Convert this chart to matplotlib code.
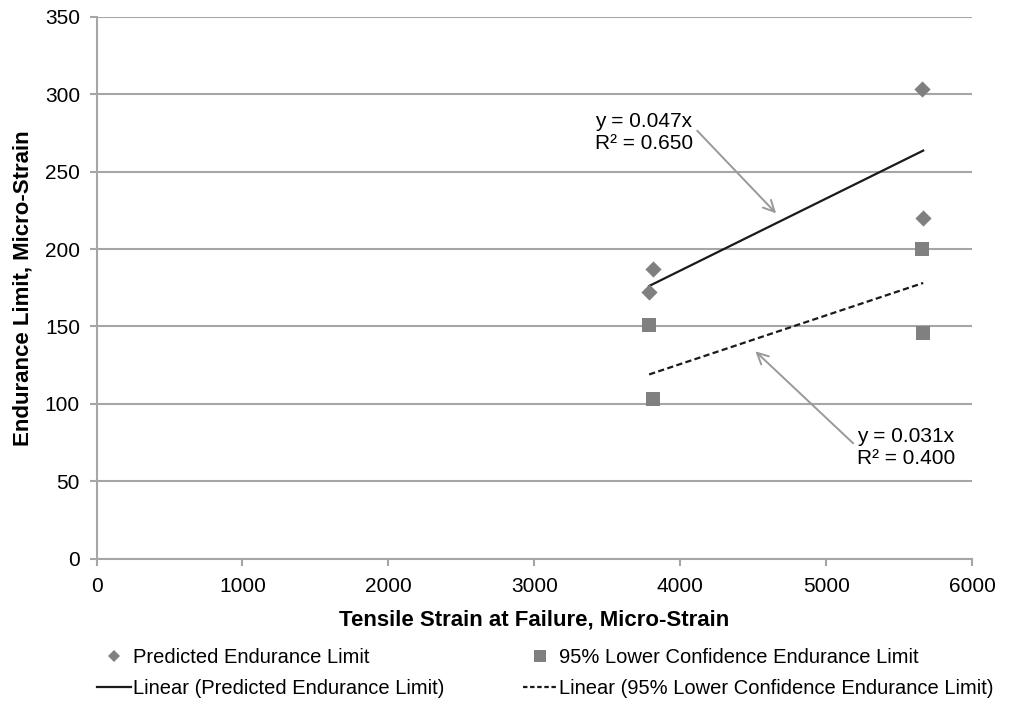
import numpy as np
import matplotlib.pyplot as plt
from matplotlib.lines import Line2D

plt.rcParams["font.family"] = ["Liberation Sans", "DejaVu Sans"]

# data
strain_fail = [3787, 3816, 5656, 5665]
pred_limit = [172, 187, 303, 220]
lower_limit = [151, 103, 200, 146]

x_ticks = [0, 1000, 2000, 3000, 4000, 5000, 6000]
y_ticks = [0, 50, 100, 150, 200, 250, 300, 350]

GRID = "#a6a6a6"
MARK = "#808080"
LINE = "#1a1a1a"
ARROW = "#999999"

x = np.array(strain_fail, dtype=float)


def slope0(y):
    # Excel linear trendline with intercept forced to zero
    y = np.asarray(y, dtype=float)
    return (x * y).sum() / (x * x).sum()


fig = plt.figure(figsize=(10.11, 7.09), dpi=100)
ax = fig.add_axes([0.0955, 0.2116, 0.866, 0.7651])

ax.set_xlim(0, 6000)
ax.set_ylim(0, 350)
ax.set_xticks(x_ticks)
ax.set_yticks(y_ticks)
ax.grid(axis="y", color=GRID, lw=1.5, zorder=0)
for s in ["top", "right"]:
    ax.spines[s].set_visible(False)
for s in ["left", "bottom"]:
    ax.spines[s].set_color(GRID)
    ax.spines[s].set_linewidth(1.5)
ax.tick_params(colors=GRID, width=1.5, length=5, direction="out",
               labelcolor="black", labelsize=15)
ax.tick_params(axis="x", pad=8.3)
ax.tick_params(axis="y", pad=7)

ax.scatter(x, pred_limit, marker="D", s=68, color=MARK, zorder=4, lw=0)
ax.scatter(x, lower_limit, marker="s", s=105, color=MARK, zorder=4, lw=0)

xs = np.array([x.min(), x.max()])
ax.plot(xs, slope0(pred_limit) * xs, color=LINE, lw=1.6, zorder=3)
ax.plot(xs, slope0(lower_limit) * xs, color=LINE, lw=1.6, ls=(0, (2.8, 1.5)),
        zorder=3)

ax.annotate("y = 0.047x\nR² = 0.650", xy=(4657, 223), xytext=(3417, 275),
            fontsize=15, linespacing=1.2, va="center", ha="left",
            arrowprops=dict(arrowstyle="->", color=ARROW, lw=1.4,
                            shrinkA=0, shrinkB=0, mutation_scale=20,
                            relpos=(1.04, 0.55)))
ax.annotate("y = 0.031x\nR² = 0.400", xy=(4515, 134), xytext=(5212, 72),
            fontsize=15, linespacing=1.2, va="center", ha="left",
            arrowprops=dict(arrowstyle="->", color=ARROW, lw=1.4,
                            shrinkA=0, shrinkB=0, mutation_scale=20,
                            relpos=(-0.04, 0.6)))

ax.set_xlabel("Tensile Strain at Failure, Micro-Strain", fontsize=16,
              fontweight="bold", labelpad=9.5)
ax.set_ylabel("Endurance Limit, Micro-Strain", fontsize=16,
              fontweight="bold", labelpad=8)

handles = [
    Line2D([], [], ls="none", marker="D", ms=6.5, color=MARK, mew=0),
    Line2D([], [], color=LINE, lw=1.6),
    Line2D([], [], ls="none", marker="s", ms=8, color=MARK, mew=0),
    Line2D([], [], color=LINE, lw=1.6, ls=(0, (2, 1.2))),
]
labels = ["Predicted Endurance Limit", "Linear (Predicted Endurance Limit)",
          "95% Lower Confidence Endurance Limit",
          "Linear (95% Lower Confidence Endurance Limit)"]
fig.legend(handles, labels, ncol=2, loc="upper left",
           bbox_to_anchor=(0.096, 0.0855), frameon=False, fontsize=14.5,
           handlelength=1.7, handletextpad=0.1, columnspacing=3.9,
           labelspacing=0.6, borderaxespad=0, borderpad=0)

fig.savefig("out.png", dpi=100)
